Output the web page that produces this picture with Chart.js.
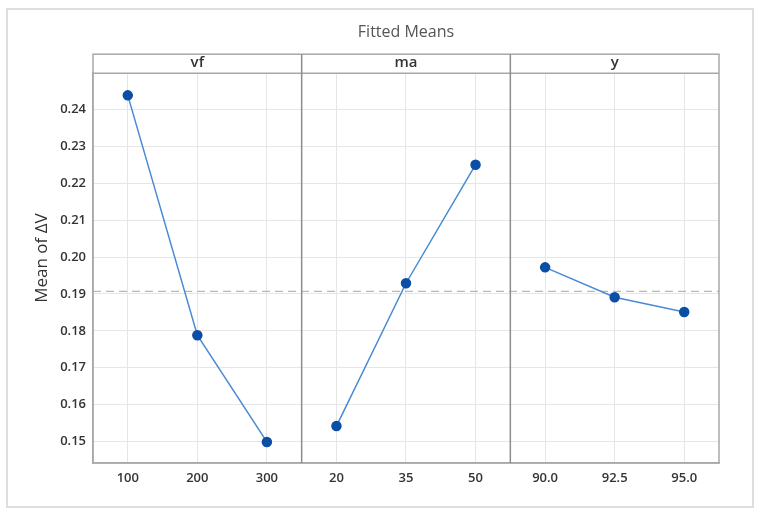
<!DOCTYPE html>
<html>
<head>
<meta charset="utf-8">
<script src="https://cdn.jsdelivr.net/npm/chart.js@4.4.0/dist/chart.umd.min.js"></script>
<style>
  html, body { margin: 0; padding: 0; background: #fff; }
  #wrap { width: 760px; height: 515px; position: relative; }
</style>
</head>
<body>
<div id="wrap"><canvas id="meansChart"></canvas></div>
<script>
// Fitted means, one panel per factor
const panelNames = ['vf', 'ma', 'y'];
const vfLevels = [100, 200, 300];
const vfMeans = [0.2438, 0.1788, 0.1499];
const maLevels = [20, 35, 50];
const maMeans = [0.1542, 0.1929, 0.2250];
const yLevels = [90.0, 92.5, 95.0];
const yMeans = [0.1972, 0.1891, 0.1851];
const yTicks = [0.15, 0.16, 0.17, 0.18, 0.19, 0.20, 0.21, 0.22, 0.23, 0.24];
const grandMean = 0.1907;

const panels = [
  { id: 'x1', levels: vfLevels, means: vfMeans, fmt: v => String(v) },
  { id: 'x2', levels: maLevels, means: maMeans, fmt: v => String(v) },
  { id: 'x3', levels: yLevels, means: yMeans, fmt: v => v.toFixed(1) }
];

const fontFamily = "'Open Sans', 'Noto Sans', sans-serif";
const tickFont = { family: fontFamily, size: 13, weight: '600' };
const gridColor = '#e6e6e6';
const frameColor = '#a8a8a8';

function xScale(p) {
  const step = p.levels[1] - p.levels[0];
  return {
    type: 'linear',
    position: 'bottom',
    stack: 'panels',
    stackWeight: 1,
    min: p.levels[0] - step / 2,
    max: p.levels[p.levels.length - 1] + step / 2,
    afterBuildTicks: s => { s.ticks = p.levels.map(v => ({ value: v })); },
    afterFit: s => { s.height = 52; },
    ticks: { font: tickFont, color: '#333', padding: 7, maxRotation: 0, callback: v => p.fmt(v) },
    grid: { color: gridColor, drawTicks: false },
    border: { display: true, color: frameColor, width: 1.5 }
  };
}

const scales = {
  y: {
    min: 0.1442,
    max: 0.2498,
    afterBuildTicks: s => { s.ticks = yTicks.map(v => ({ value: v })); },
    afterFit: s => { s.width = 63; },
    ticks: { font: tickFont, color: '#333', padding: 7, callback: v => v.toFixed(2) },
    grid: { color: gridColor, drawTicks: false },
    border: { display: true, color: frameColor, width: 1.5 }
  }
};
panels.forEach(p => { scales[p.id] = xScale(p); });

const panelDecor = {
  id: 'panelDecor',
  beforeDraw(chart) {
    const c = chart.ctx;
    c.save();
    c.fillStyle = '#fff';
    c.fillRect(0, 0, chart.width, chart.height);
    c.strokeStyle = '#dedede';
    c.lineWidth = 2;
    c.strokeRect(7, 9, chart.width - 14, chart.height - 17);
    c.restore();
  },
  beforeDatasetsDraw(chart) {
    const c = chart.ctx;
    const a = chart.chartArea;
    const yPix = chart.scales.y.getPixelForValue(grandMean);
    c.save();
    c.strokeStyle = '#b8b8b8';
    c.lineWidth = 1.3;
    c.setLineDash([8, 5]);
    c.beginPath();
    c.moveTo(a.left, yPix);
    c.lineTo(a.right, yPix);
    c.stroke();
    c.restore();
  },
  afterDraw(chart) {
    const c = chart.ctx;
    const a = chart.chartArea;
    const stripH = 19;
    c.save();
    c.strokeStyle = frameColor;
    c.lineWidth = 1.5;
    c.strokeRect(a.left, a.top - stripH, a.right - a.left, a.bottom - a.top + stripH);
    c.beginPath();
    c.moveTo(a.left, a.top);
    c.lineTo(a.right, a.top);
    c.stroke();
    c.strokeStyle = '#8c8c8c';
    panels.forEach((p, i) => {
      const s = chart.scales[p.id];
      if (i > 0) {
        c.beginPath();
        c.moveTo(s.left, a.top - stripH);
        c.lineTo(s.left, a.bottom);
        c.stroke();
      }
      c.fillStyle = '#333';
      c.font = "600 15px " + fontFamily;
      c.textAlign = 'center';
      c.textBaseline = 'middle';
      c.fillText(panelNames[i], (s.left + s.right) / 2, a.top - stripH / 2 - 1);
    });
    // y axis title, sits a little above the middle as in the original
    c.translate(a.left - 51, (a.top + a.bottom) / 2 - 10);
    c.rotate(-Math.PI / 2);
    c.fillStyle = '#333';
    c.font = "17px " + fontFamily;
    c.fillText('Mean of ΔV', 0, 0);
    c.restore();
  }
};

new Chart(document.getElementById('meansChart'), {
  type: 'line',
  data: {
    datasets: panels.map((p, i) => ({
      label: panelNames[i],
      xAxisID: p.id,
      yAxisID: 'y',
      data: p.levels.map((v, k) => ({ x: v, y: p.means[k] })),
      borderColor: '#4a8ad4',
      borderWidth: 1.5,
      pointBackgroundColor: '#0b4ea6',
      pointBorderColor: '#0b4ea6',
      pointRadius: 4.5,
      tension: 0
    }))
  },
  options: {
    responsive: true,
    maintainAspectRatio: false,
    animation: false,
    layout: { padding: { left: 30, right: 41, top: 16, bottom: 0 } },
    plugins: {
      legend: { display: false },
      tooltip: { enabled: false },
      title: {
        display: true,
        fullSize: false,
        text: 'Fitted Means',
        color: '#555',
        font: { family: fontFamily, size: 16, weight: 'normal' },
        padding: { top: 7, bottom: 31 }
      }
    },
    scales: scales
  },
  plugins: [panelDecor]
});
</script>
</body>
</html>
